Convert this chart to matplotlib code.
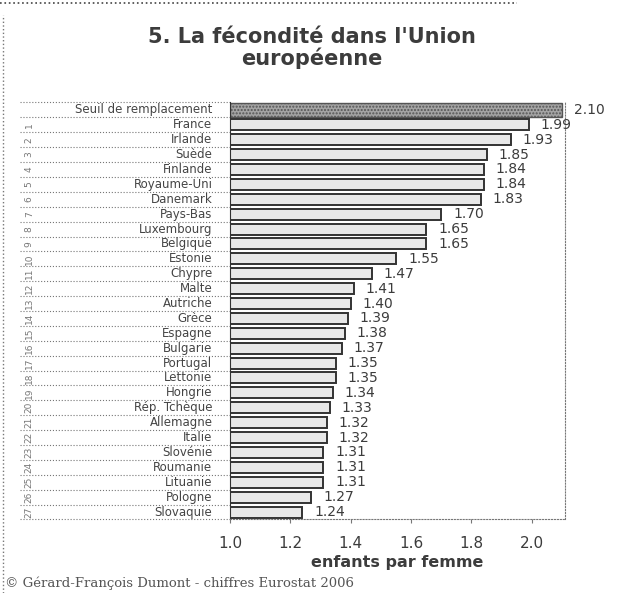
import matplotlib
matplotlib.use("Agg")
import matplotlib.pyplot as plt
import matplotlib.transforms as mtransforms
import numpy as np

plt.rcParams['font.family'] = ['DejaVu Sans']

categories = ["Seuil de remplacement", "France", "Irlande", "Suède", "Finlande",
              "Royaume-Uni", "Danemark", "Pays-Bas", "Luxembourg", "Belgique",
              "Estonie", "Chypre", "Malte", "Autriche", "Grèce", "Espagne",
              "Bulgarie", "Portugal", "Lettonie", "Hongrie", "Rép. Tchèque",
              "Allemagne", "Italie", "Slovénie", "Roumanie", "Lituanie",
              "Pologne", "Slovaquie"]
values = [2.10, 1.99, 1.93, 1.85, 1.84, 1.84, 1.83, 1.70, 1.65, 1.65, 1.55,
          1.47, 1.41, 1.40, 1.39, 1.38, 1.37, 1.35, 1.35, 1.34, 1.33, 1.32,
          1.32, 1.31, 1.31, 1.31, 1.27, 1.24]
ranks = [""] + [str(i) for i in range(1, 28)]
xticks = [1.0, 1.2, 1.4, 1.6, 1.8, 2.0]

fig = plt.figure(figsize=(6.23, 5.93), dpi=100)
ax = fig.add_axes([0.369, 0.124, 0.538, 0.7032])

n = len(categories)
base = 1.0
for i, (c, v) in enumerate(zip(categories, values)):
    if i == 0:
        ax.barh(i, v - base, left=base, height=0.95, color='#a4a4a4',
                edgecolor='#555555', linewidth=1.0, hatch='.....')
    else:
        ax.barh(i, v - base, left=base, height=0.74, color='#e8e8e8',
                edgecolor='#333333', linewidth=1.4)
    ax.text(v + 0.04, i, f"{v:.2f}", va='center', ha='left',
            fontsize=10, color='#3c3c3c')

ax.set_ylim(n - 0.5, -0.5)
ax.set_xlim(1.0, 2.11)
ax.set_yticks([])
ax.set_xticks(xticks)
ax.set_xticklabels([f"{t:.1f}" for t in xticks], fontsize=11, color='#3c3c3c')
ax.tick_params(axis='x', length=3, pad=9, color='#777777')
ax.spines['top'].set_visible(False)
for s in ['right', 'bottom']:
    ax.spines[s].set_linestyle(':')
    ax.spines[s].set_color('#777777')
ax.spines['left'].set_color('#333333')
ax.set_xlabel("enfants par femme", fontsize=11.5, fontweight='bold',
              color='#3c3c3c', labelpad=3)

# label column
trans = mtransforms.blended_transform_factory(fig.transFigure, ax.transData)
for i in range(n):
    ax.text(0.341, i, categories[i], transform=trans, ha='right', va='center',
            fontsize=8.5, color='#444444')
    ax.text(0.047, i, ranks[i], transform=trans, ha='center', va='center',
            fontsize=6.5, rotation=90, color='#777777')
for b in np.arange(-0.5, n, 1.0):
    ax.plot([0.032, 0.369], [b, b], transform=trans, ls=':', lw=0.8,
            color='#777777', clip_on=False)

fig.text(0.5, 0.937, "5. La fécondité dans l'Union", ha='center', va='center',
         fontsize=15, fontweight='bold', color='#3c3c3c')
fig.text(0.5, 0.901, "européenne", ha='center', va='center',
         fontsize=15, fontweight='bold', color='#3c3c3c')
fig.text(0.008, 0.017, "© Gérard-François Dumont - chiffres Eurostat 2006",
         ha='left', va='center', fontsize=9.5, family='DejaVu Serif', color='#555555')

# border
fig.add_artist(plt.Line2D([0.005, 0.005], [0.0, 0.975], transform=fig.transFigure,
                          ls=':', lw=1, color='#777777'))
fig.add_artist(plt.Line2D([0.0, 0.83], [0.995, 0.995], transform=fig.transFigure,
                          ls=':', lw=1.2, color='#444444'))

fig.savefig("out.png", dpi=100)
